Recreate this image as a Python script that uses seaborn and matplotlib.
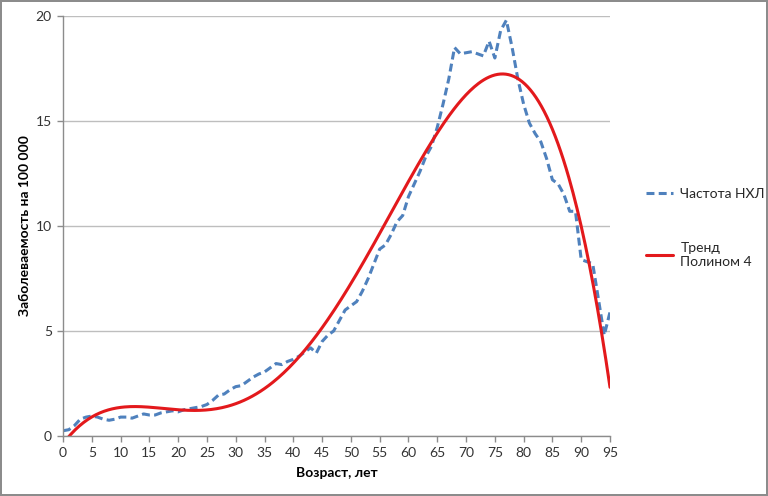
import numpy as np
import pandas as pd
import matplotlib
matplotlib.use("Agg")
import matplotlib.pyplot as plt
import seaborn as sns

ages = list(range(0, 96))
rate = [0.25, 0.3, 0.5, 0.8, 0.9, 0.95, 0.9, 0.8, 0.75, 0.8,
        0.9, 0.9, 0.85, 0.95, 1.05, 1.0, 1.0, 1.1, 1.15, 1.2,
        1.15, 1.25, 1.3, 1.35, 1.4, 1.5, 1.7, 1.95, 2.0, 2.2,
        2.35, 2.4, 2.6, 2.8, 2.95, 3.05, 3.25, 3.45, 3.4, 3.55,
        3.65, 3.8, 4.0, 4.2, 3.95, 4.5, 4.8, 5.0, 5.5, 6.0,
        6.2, 6.4, 6.9, 7.5, 8.2, 8.9, 9.1, 9.6, 10.2, 10.5,
        11.4, 12.0, 12.6, 13.3, 13.8, 14.7, 15.8, 17.0, 18.5, 18.2,
        18.25, 18.3, 18.2, 18.1, 18.8, 18.0, 19.3, 19.8, 18.5, 17.0,
        15.8, 14.9, 14.4, 14.0, 13.2, 12.2, 12.0, 11.5, 10.7, 10.7,
        8.4, 8.3, 8.2, 6.5, 4.8, 5.9]
series_names = ["Частота НХЛ", "Тренд\nПолином 4"]
xticks = list(range(0, 96, 5))
yticks = [0, 5, 10, 15, 20]

sns.set_theme(style="white")
plt.rcParams['font.family'] = ['Lato', 'DejaVu Sans']

coef = np.polyfit(ages, rate, 4)
xs = np.linspace(0, 95, 400)
trend = np.polyval(coef, xs)

df = pd.DataFrame({"age": ages, "rate": rate})
dft = pd.DataFrame({"age": xs, "rate": trend})

fig = plt.figure(figsize=(7.68, 4.96), dpi=100)
fig.patch.set_edgecolor("#8c8c8c")
fig.patch.set_linewidth(1.5)
ax = fig.add_axes([63/768, 60/496, 547/768, 420/496])

sns.lineplot(data=df, x="age", y="rate", ax=ax, color="#4F81BD", lw=2.2,
             label=series_names[0])
ax.lines[-1].set_dashes([2.6, 1.4])
sns.lineplot(data=dft, x="age", y="rate", ax=ax, color="#E3191C", lw=2.2,
             label=series_names[1])

ax.set_xlim(0, 95)
ax.set_ylim(0, 20)
ax.set_xticks(xticks)
ax.set_yticks(yticks)
ax.yaxis.grid(True, color="#BEBEBE", lw=1)
for s in ["top", "right"]:
    ax.spines[s].set_visible(False)
for s in ["left", "bottom"]:
    ax.spines[s].set_color("#8c8c8c")
    ax.spines[s].set_linewidth(1)
ax.tick_params(axis="both", which="both", direction="out", length=4, width=1,
               color="#8c8c8c", labelsize=10, labelcolor="#333333", pad=4,
               bottom=True, left=True)
ax.set_xlabel("Возраст, лет", fontsize=10, fontweight="bold", labelpad=6,
              color="black")
ax.set_ylabel("Заболеваемость на 100 000", fontsize=10, fontweight="bold",
              labelpad=3, color="black")

leg = ax.legend(loc="center left", bbox_to_anchor=(1.065, 0.495), frameon=False,
                fontsize=10, handlelength=2.0, labelspacing=3.0,
                handletextpad=0.5, borderpad=0, borderaxespad=0)

fig.savefig("out.png", dpi=100)
